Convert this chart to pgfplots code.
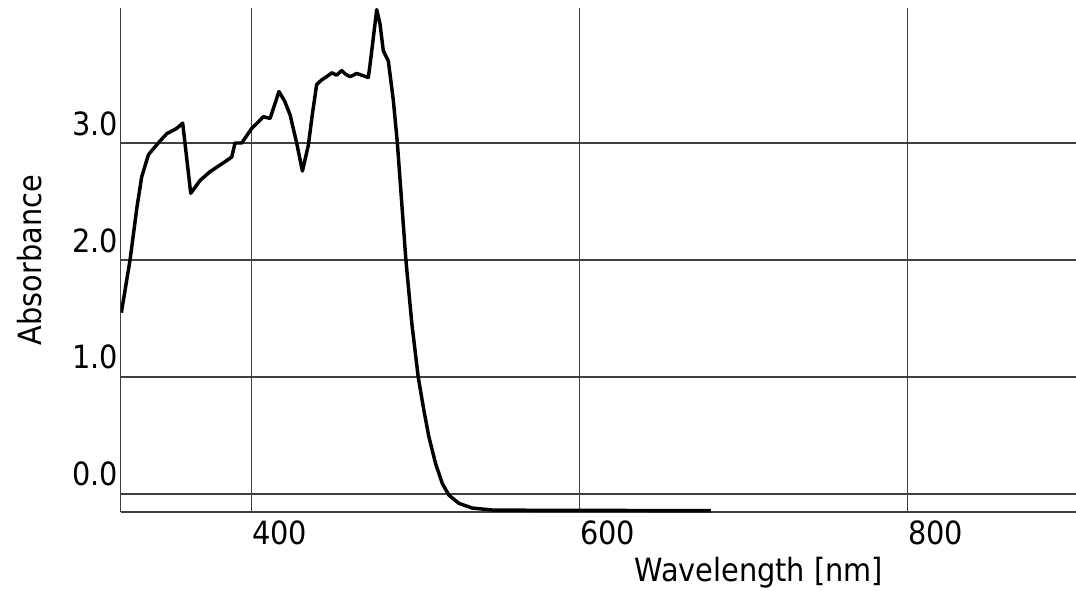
\documentclass[border=0pt]{standalone}
\usepackage{pgfplots}
\pgfplotsset{compat=1.18}
\usepackage{fontspec}
\setmainfont{DejaVu Sans Condensed}
\begin{document}
\fontsize{24}{28}\selectfont
\begin{tikzpicture}
\begin{axis}[
  scale only axis,
  width=716.6pt, height=378pt,
  xmin=320, xmax=902.6,
  ymin=-0.154, ymax=4.154,
  axis x line*=bottom, axis y line*=left,
  axis line style={black!75, line width=0.9pt, -},
  xtick={400,600,800}, xticklabels={400,600,800},
  ytick={0,1,2,3}, yticklabels={0.0,1.0,2.0,3.0},
  major tick length=0pt,
  grid=major,
  major grid style={black!75, line width=0.9pt},
  xticklabel style={anchor=north west, inner sep=0pt, yshift=-6pt, font=\fontsize{24}{28}\selectfont},
  yticklabel style={anchor=base east, inner sep=0pt, yshift=6pt, xshift=-1.5pt, font=\fontsize{24}{28}\selectfont},
  xlabel={Wavelength [nm]},
  ylabel={Absorbance},
  xlabel style={at={(axis description cs:0.668,-0.121)}, anchor=center, inner sep=0pt, font=\fontsize{24}{28}\selectfont},
  ylabel style={at={(axis description cs:-0.0955,0.5)}, anchor=center, inner sep=0pt, font=\fontsize{24}{28}\selectfont},
  clip=true,
]
\addplot[black, line width=2.6pt, line join=round] coordinates {
(320.5,1.55) (325.8,2.0) (330,2.45) (332.9,2.71) (337,2.90) (343,3.00)
(348.2,3.08) (354.3,3.125) (357.9,3.17) (362.8,2.57) (368.5,2.68)
(374.6,2.755) (383.7,2.84) (387.8,2.88) (389.8,3.0) (393.9,3.0)
(400,3.125) (404,3.18) (407.1,3.225) (411.2,3.21) (416.6,3.44)
(420,3.36) (423.4,3.24) (427.4,3.0) (430.9,2.76) (434.5,2.98)
(437,3.25) (439.6,3.50) (442.7,3.54) (446,3.57) (448.8,3.60)
(451.8,3.58) (454.9,3.62) (457,3.59) (459.9,3.567) (462,3.58)
(464,3.595) (467,3.58) (471.1,3.56) (472.5,3.71) (476.2,4.14)
(478.2,4.02) (480.2,3.79) (483.3,3.70) (486.3,3.37) (488.8,3.0)
(494,2.0) (497.6,1.46) (501.5,1.0) (504.9,0.72) (508.0,0.49)
(512.1,0.26) (516.2,0.09) (520.2,-0.01) (526.3,-0.08) (534.4,-0.12)
(546.6,-0.137) (580,-0.14) (680,-0.142)
};
\end{axis}
\pgfresetboundingbox
\useasboundingbox ([xshift=-90.4pt, yshift=-58.5pt]current axis.south west) rectangle ([yshift=6pt]current axis.north east);
\end{tikzpicture}
\end{document}
